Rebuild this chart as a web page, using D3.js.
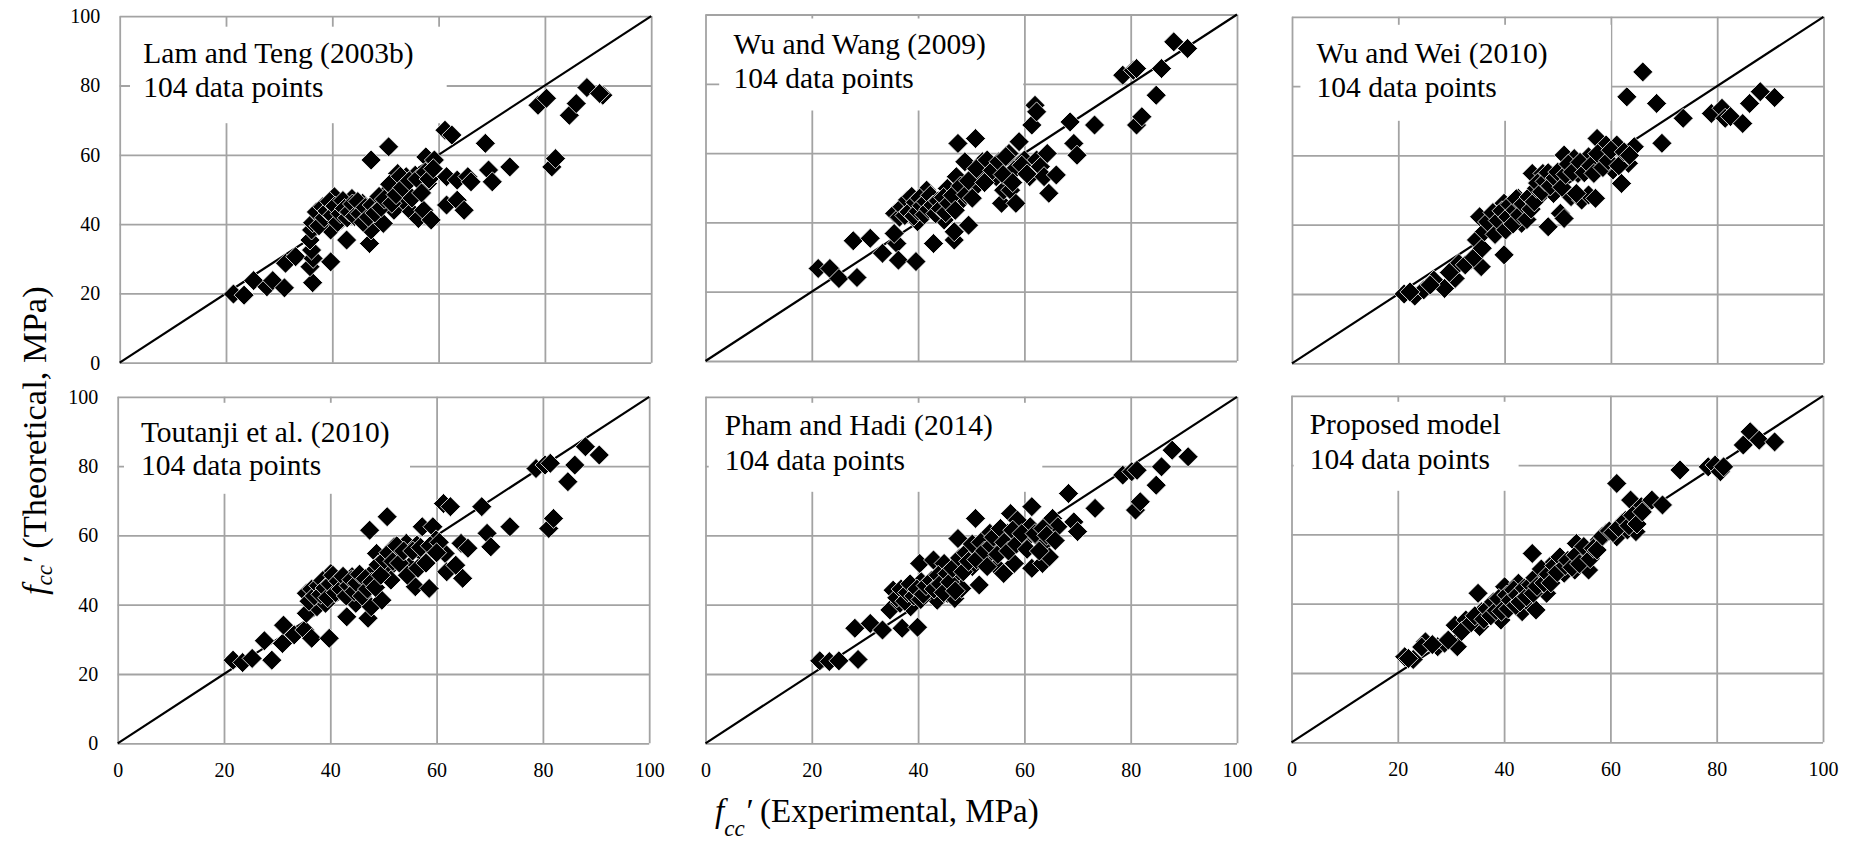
<!DOCTYPE html>
<html lang="en">
<head>
<meta charset="UTF-8">
<title>Theoretical vs experimental fcc'</title>
<script src="https://d3js.org/d3.v7.min.js"></script>
<style>
  body { margin: 0; background: #fff; }
  .grid line { stroke: #a3a3a3; stroke-width: 1.8; }
</style>
</head>
<body>
<svg width="1859" height="847"></svg>
<script>
// ---- data ----
const ticks = [0, 20, 40, 60, 80, 100];
const titles = ["Lam and Teng (2003b)", "Wu and Wang (2009)", "Wu and Wei (2010)",
                "Toutanji et al. (2010)", "Pham and Hadi (2014)", "Proposed model"];
const countLabel = "104 data points";

// [experimental, theoretical] in MPa
const lamTeng = [
  [21.4,19.8],[23.4,19.5],[25.2,23.7],[27.7,21.9],[28.8,23.7],[31.0,21.6],[31.2,28.7],[33.1,30.6],
  [36.3,23.1],[35.8,27.7],[36.4,30.1],[36.1,32.5],[35.8,35.4],[36.1,38.3],[36.3,40.4],[37.8,42.1],
  [39.7,29.1],[39.7,38.3],[40.4,47.9],[41.1,44.0],[41.7,41.2],[43.7,47.4],[42.7,35.4],[44.4,44.0],
  [45.7,46.0],[47.0,34.4],[47.3,58.5],[47.3,38.3],[48.3,46.0],[50.3,49.3],[50.6,62.3],[49.6,40.2],
  [51.6,44.0],[52.3,54.6],[53.6,46.4],[53.9,53.7],[54.9,43.6],[55.6,54.1],[56.2,41.6],[57.2,44.0],
  [57.6,59.4],[57.9,51.7],[58.6,41.2],[59.2,58.5],[61.5,45.5],[61.2,67.1],[62.5,65.7],[61.5,53.7],
  [63.5,52.7],[63.5,46.9],[64.8,44.0],[65.5,53.7],[66.1,52.2],[68.8,63.3],[69.4,55.6],[70.1,52.2],
  [73.4,56.5],[78.7,74.3],[80.3,76.3],[81.3,56.5],[82.0,58.9],[84.6,71.4],[85.9,74.8],[87.9,79.4],
  [90.9,77.2],[90.3,77.7],
  [37.0,43.5],[37.5,39.5],[38.2,45.0],[38.5,41.8],[39.0,43.8],[39.5,46.5],[40.0,42.5],[40.5,45.2],
  [41.0,40.5],[41.5,43.0],[42.0,46.8],[42.3,44.5],[42.8,41.8],[43.2,43.5],[43.8,45.8],[44.2,42.2],
  [44.8,46.5],[45.2,43.0],[45.8,40.5],[46.2,44.8],[46.8,42.0],[47.5,45.5],[48.0,43.2],[48.8,48.0],
  [49.2,44.8],[49.8,47.2],[50.8,51.5],[51.2,46.0],[52.0,48.5],[52.8,53.8],[53.2,50.5],[54.5,52.5],
  [55.0,47.5],[56.0,53.0],[56.8,49.0],[57.5,55.0],[58.2,53.0],[59.0,56.0]
];
const wuWang = [
  [21.2,26.7],[23.4,26.7],[25.1,23.8],[28.5,24.1],[27.8,34.7],[31.0,35.4],[33.3,31.1],[36.0,33.9],
  [36.3,29.1],[35.5,36.8],[35.6,42.6],[37.6,45.5],[39.6,28.7],[39.9,40.2],[38.9,44.0],[40.9,47.4],
  [41.9,45.5],[41.6,49.3],[42.9,33.9],[43.5,44.6],[44.9,40.7],[45.5,49.8],[46.8,34.9],[46.8,37.3],
  [47.2,53.2],[47.5,62.8],[48.2,46.4],[48.8,57.5],[49.5,39.2],[50.8,64.2],[50.8,50.3],[51.5,53.2],
  [52.1,57.5],[53.4,56.1],[54.7,53.2],[55.7,45.5],[56.1,49.3],[57.1,59.9],[57.4,49.3],[58.4,45.5],
  [58.4,55.6],[59.0,63.3],[60.0,58.0],[61.0,53.2],[61.4,68.1],[62.0,73.8],[62.3,71.9],[62.3,58.0],
  [63.0,56.1],[63.7,53.2],[64.3,59.9],[64.6,48.4],[66.0,53.7],[68.6,69.0],[69.3,62.8],[69.9,59.4],
  [73.2,68.1],[78.5,82.5],[80.5,83.9],[81.1,84.4],[81.1,68.1],[82.1,70.5],[84.8,76.7],[85.8,84.4],
  [88.1,92.1],[90.7,90.2],
  [36.5,41.5],[37.0,44.5],[37.5,42.0],[38.0,46.5],[38.3,43.0],[38.8,47.5],[39.2,41.8],[39.5,45.8],
  [40.0,43.2],[40.3,47.0],[40.7,44.8],[41.2,42.2],[41.5,46.0],[42.0,43.8],[42.3,47.8],[42.8,45.0],
  [43.3,42.5],[43.8,46.2],[44.2,44.0],[44.8,47.2],[45.2,42.8],[45.8,45.5],[46.5,47.8],[47.0,43.5],
  [48.0,50.5],[49.0,48.0],[49.5,52.0],[50.2,47.0],[51.0,55.5],[52.5,51.5],[53.0,58.0],[54.0,55.0],
  [55.2,57.5],[56.0,53.8],[57.8,51.5],[59.5,56.5],[60.5,54.0],[56.5,59.0]
];
const wuWei = [
  [21.1,20.0],[23.1,19.4],[24.8,21.2],[26.7,24.0],[28.7,21.6],[30.7,24.5],[31.4,28.8],[33.7,29.8],
  [35.6,27.9],[34.7,35.6],[35.3,42.3],[37.3,39.4],[39.9,31.3],[39.9,46.2],[39.3,39.4],[41.3,43.3],
  [42.6,47.6],[43.2,40.4],[43.9,44.2],[45.2,54.8],[47.2,54.8],[46.5,48.1],[48.2,39.4],[48.8,54.3],
  [49.2,49.0],[50.5,43.3],[51.2,41.8],[51.2,60.1],[52.5,48.1],[53.1,59.1],[53.8,54.8],[54.5,47.1],
  [55.8,48.6],[55.8,59.6],[57.1,47.6],[57.4,64.9],[57.8,57.7],[59.1,63.0],[60.4,55.8],[61.1,63.0],
  [62.0,51.9],[63.0,76.9],[63.3,57.7],[64.4,62.5],[66.0,84.1],[68.6,75.0],[69.6,63.5],[73.6,70.7],
  [78.9,72.1],[80.9,73.6],[81.5,70.7],[82.5,71.2],[84.8,69.2],[86.1,75.0],[88.1,78.4],[90.8,76.7],
  [22.2,20.6],[26.0,22.6],[29.6,26.2],[32.6,28.4],[34.2,30.5],[35.8,33.2],[36.2,38.0],[36.8,40.8],
  [37.8,43.5],[38.2,37.2],[38.8,41.2],[39.5,44.0],[40.2,38.5],[40.6,42.2],[41.0,45.8],[41.6,40.2],
  [42.0,44.2],[42.2,47.5],[42.8,42.8],[43.5,46.0],[44.2,41.5],[44.6,48.0],[45.0,44.5],[45.6,46.6],
  [46.0,50.5],[46.2,52.0],[47.0,49.5],[47.6,52.5],[48.2,55.0],[48.6,51.2],[49.5,53.5],[50.0,55.2],
  [50.8,50.8],[51.5,54.5],[52.0,57.5],[52.8,55.2],[53.5,49.0],[54.2,58.0],[55.0,55.0],[56.2,57.0],
  [56.8,54.8],[57.5,60.5],[58.5,56.5],[59.5,58.5],[60.0,61.5],[61.5,57.0],[62.5,61.0],[63.5,60.0]
];
const toutanji = [
  [21.7,24.0],[23.5,23.3],[25.3,24.5],[27.6,29.6],[29.0,24.0],[31.0,28.8],[31.2,34.1],[33.2,31.3],
  [35.2,32.7],[36.5,30.3],[35.5,37.5],[35.5,43.3],[37.5,39.4],[39.8,30.3],[39.1,40.4],[40.1,49.0],
  [40.8,44.2],[42.8,46.2],[43.1,36.5],[44.1,48.1],[44.8,40.4],[46.1,45.2],[47.1,36.1],[47.4,61.5],
  [47.7,39.4],[48.1,49.5],[48.7,54.8],[49.7,41.3],[50.7,65.4],[50.7,50.0],[51.4,47.1],[52.0,56.7],
  [53.3,54.8],[54.3,57.7],[54.9,51.0],[56.0,45.2],[56.3,57.2],[57.3,62.5],[57.6,54.3],[58.6,44.7],
  [59.3,62.5],[59.9,58.7],[61.6,54.8],[61.3,69.2],[62.6,68.3],[61.9,49.5],[63.6,51.4],[64.6,57.7],
  [64.9,47.6],[65.9,56.3],[68.5,68.3],[69.5,60.6],[70.2,56.7],[73.8,62.5],[78.7,79.3],[80.4,80.3],
  [81.4,80.8],[81.1,62.0],[82.0,64.9],[84.7,75.5],[86.0,80.3],[88.0,85.6],[90.6,83.2],
  [36.0,41.0],[36.5,44.5],[37.0,42.5],[37.8,45.5],[38.2,43.0],[38.6,47.0],[39.0,44.8],[39.5,42.0],
  [40.0,46.0],[40.5,48.5],[41.0,43.5],[41.5,46.8],[42.0,44.5],[42.4,48.2],[43.0,42.5],[43.5,45.5],
  [44.0,47.2],[44.5,43.8],[45.0,46.2],[45.5,48.8],[46.0,42.5],[46.6,47.5],[47.0,44.5],[47.8,46.5],
  [48.5,45.0],[49.0,51.5],[49.5,48.5],[50.2,53.0],[51.0,55.0],[51.8,52.5],[52.5,57.0],[53.0,52.0],
  [53.8,55.5],[54.5,48.5],[55.5,55.5],[56.5,50.5],[57.0,56.5],[58.0,52.0],[58.8,57.0],[60.5,58.0],
  [60.0,55.0]
];
const phamHadi = [
  [21.5,23.8],[23.3,23.6],[25.1,23.8],[28.7,24.2],[28.1,33.2],[31.0,34.6],[33.3,32.7],[35.3,44.2],
  [34.7,38.5],[37.0,33.2],[36.6,40.4],[39.9,33.5],[38.6,39.4],[40.3,51.9],[40.6,46.6],[42.2,44.2],
  [42.9,52.9],[43.6,41.3],[44.9,51.9],[45.5,43.3],[46.9,41.8],[47.5,59.1],[47.5,48.1],[48.2,44.7],
  [48.8,51.9],[50.2,51.0],[50.8,64.9],[50.8,55.8],[51.5,45.7],[52.8,53.8],[53.5,60.6],[54.5,56.7],
  [54.8,51.0],[56.1,49.0],[56.8,60.6],[57.4,66.3],[58.1,51.9],[58.7,64.4],[60.1,58.7],[61.1,62.5],
  [61.4,68.3],[61.4,50.5],[62.4,59.6],[63.4,51.9],[63.7,57.7],[64.7,53.8],[65.3,64.9],[66.3,62.5],
  [68.3,72.1],[69.3,63.9],[70.0,61.1],[73.3,67.8],[78.5,77.4],[80.2,78.4],[81.2,78.8],[80.9,67.3],
  [81.8,69.7],[84.8,74.5],[85.8,79.8],[87.8,84.6],[90.8,82.7],
  [36.0,42.0],[36.8,44.5],[37.5,41.0],[38.0,43.5],[38.5,46.0],[39.2,42.5],[39.8,44.5],[40.5,41.5],
  [41.0,43.0],[41.5,45.5],[42.5,47.0],[43.0,44.5],[43.8,48.5],[44.2,46.0],[44.8,43.5],[45.5,49.0],
  [46.0,46.5],[46.5,50.5],[47.0,44.0],[47.8,53.5],[48.5,49.5],[49.0,55.0],[49.5,52.5],[50.2,57.5],
  [51.0,53.0],[51.8,58.0],[52.5,55.5],[53.0,51.0],[53.8,57.0],[54.2,59.5],[55.0,54.5],[55.5,62.0],
  [56.2,58.0],[57.0,55.5],[57.8,61.5],[58.5,57.5],[59.5,60.5],[60.5,56.0],[62.0,60.5],[62.8,55.5],
  [63.5,62.0],[64.2,60.0],[65.8,58.5]
];
const proposed = [
  [21.3,24.7],[22.9,23.9],[25.2,29.0],[27.5,27.6],[28.8,28.6],[31.2,27.6],[30.8,33.8],[32.8,35.3],
  [35.4,33.4],[35.1,43.0],[35.8,37.7],[37.4,39.1],[39.4,35.3],[40.1,44.9],[40.1,40.1],[41.4,43.0],
  [42.7,45.9],[43.4,37.7],[44.7,40.1],[45.3,54.5],[46.0,38.2],[46.7,47.8],[48.0,43.0],[48.6,50.7],
  [49.3,47.8],[50.6,52.6],[51.3,48.8],[53.3,49.7],[53.6,57.4],[54.6,53.1],[55.3,55.5],[55.9,49.7],
  [57.9,58.4],[59.2,60.3],[61.2,74.7],[61.2,59.3],[62.2,63.2],[63.2,61.3],[63.8,69.9],[64.8,60.8],
  [65.8,68.0],[67.8,69.9],[69.8,68.5],[73.1,78.6],[78.4,79.5],[79.7,80.0],[80.7,78.1],[81.3,79.5],
  [85.0,85.8],[86.3,89.6],[88.0,87.2],[90.9,86.7],
  [22.0,24.2],[24.5,27.5],[26.5,28.2],[29.5,29.5],[32.0,32.0],[33.8,34.5],[34.5,36.5],[36.2,35.5],
  [36.8,38.5],[37.5,36.5],[38.0,40.5],[38.5,38.0],[39.0,41.5],[39.5,37.8],[40.5,42.5],[40.8,38.5],
  [41.2,41.0],[41.8,44.0],[42.2,39.5],[42.5,42.5],[43.0,40.5],[43.8,44.5],[44.2,42.0],[45.0,45.5],
  [45.5,43.0],[45.8,47.5],[46.2,45.0],[47.0,50.0],[47.5,46.0],[48.3,48.5],[48.8,46.0],[49.5,51.0],
  [50.0,49.0],[50.5,53.5],[51.5,51.0],[52.0,52.5],[52.8,50.5],[53.5,54.0],[54.2,51.5],[55.0,56.5],
  [56.2,53.0],[56.8,56.0],[57.5,55.5],[58.5,59.5],[59.8,61.0],[60.5,60.5],[61.5,62.0],[62.8,64.0],
  [63.5,62.5],[64.2,65.5],[65.0,63.0],[66.0,66.5]
];
const series = [lamTeng, wuWang, wuWei, toutanji, phamHadi, proposed];

// ---- layout ----
const FONT = '"Liberation Serif", "Times New Roman", serif';
const W = 531.5, H = 346.5;
// left, top of each plot area
const origins = [[119.7,16.2],[705.5,14.5],[1292,16.8],[117.7,396.8],[705.5,396.8],[1291.5,395.8]];
// white label box [x, y, w, h] and text [x, baseline1, baseline2], relative to the plot area
const boxes = [[10.3,10.5,316.7,96.5],[13.7,4,304,92],[8.4,8,310.5,96],[6.3,6,286,91],[3.2,6,333.6,89],[2.1,6,225,89]];
const textPos = [[23.6,47.1,80.5],[28.1,39,73],[24.5,46.5,80],[23.2,45,78],[19.3,38.2,73],[18.2,38.7,73]];

const svg = d3.select("svg");
const x = d3.scaleLinear().domain([0, 100]).range([0, W]);
const y = d3.scaleLinear().domain([0, 100]).range([H, 0]);
const diamond = r => `M0,${-r}L${r},0L0,${r}L${-r},0Z`;

series.forEach(function(data, i) {
  const g = svg.append("g").attr("transform", "translate(" + origins[i][0] + "," + origins[i][1] + ")");

  // gridlines (0 and 100 make the frame)
  g.append("g").attr("class", "grid").attr("transform", "translate(0," + H + ")")
    .call(d3.axisBottom(x).tickValues(ticks).tickSize(-H).tickFormat(""))
    .call(a => a.select(".domain").remove());
  g.append("g").attr("class", "grid")
    .call(d3.axisLeft(y).tickValues(ticks).tickSize(-W).tickFormat(""))
    .call(a => a.select(".domain").remove());

  // label box
  const b = boxes[i], t = textPos[i];
  g.append("rect").attr("x", b[0]).attr("y", b[1]).attr("width", b[2]).attr("height", b[3]).attr("fill", "#fff");
  [titles[i], countLabel].forEach(function(s, k) {
    g.append("text").attr("x", t[0]).attr("y", t[k + 1])
      .style("font-family", FONT).style("font-size", "29.5px").attr("fill", "#000").text(s);
  });

  // 1:1 line
  g.append("line")
    .attr("x1", x(0)).attr("y1", y(0)).attr("x2", x(100)).attr("y2", y(100))
    .attr("stroke", "#000").attr("stroke-width", 2.2);

  // points
  g.selectAll("path.pt").data(data).enter().append("path")
    .attr("class", "pt")
    .attr("d", diamond(10))
    .attr("transform", d => "translate(" + x(d[0]) + "," + y(d[1]) + ")")
    .attr("fill", "#000").attr("stroke", "#fff").attr("stroke-width", 0.8);

  // tick labels
  if (i % 3 === 0) {
    g.append("g").attr("class", "tick-labels")
      .call(d3.axisLeft(y).tickValues(ticks).tickSize(0).tickPadding(19.5))
      .call(a => a.select(".domain").remove());
  }
  if (i >= 3) {
    g.append("g").attr("class", "tick-labels").attr("transform", "translate(0," + H + ")")
      .call(d3.axisBottom(x).tickValues(ticks).tickSize(0).tickPadding(19.8))
      .call(a => a.select(".domain").remove());
  }
});
svg.selectAll(".tick-labels text").attr("fill", "#000")
  .style("font-family", FONT).style("font-size", "20px");

// axis titles: f'cc (...)
function axisTitle(sel, rest, size, shift) {
  sel.style("font-family", FONT).style("font-size", size + "px").attr("fill", "#000");
  sel.append("tspan").style("font-style", "italic").text("f");
  sel.append("tspan").style("font-style", "italic").style("font-size", "23px").attr("dy", shift).text("cc");
  sel.append("tspan").style("font-style", "italic").attr("dy", -shift).text("\u2032");
  sel.append("tspan").text(" " + rest);
}
svg.append("text").attr("x", 715).attr("y", 822)
  .call(axisTitle, "(Experimental, MPa)", 33, 14);
svg.append("text").attr("transform", "translate(46,595) rotate(-90)")
  .call(axisTitle, "(Theoretical, MPa)", 34.5, 6);
</script>
</body>
</html>
